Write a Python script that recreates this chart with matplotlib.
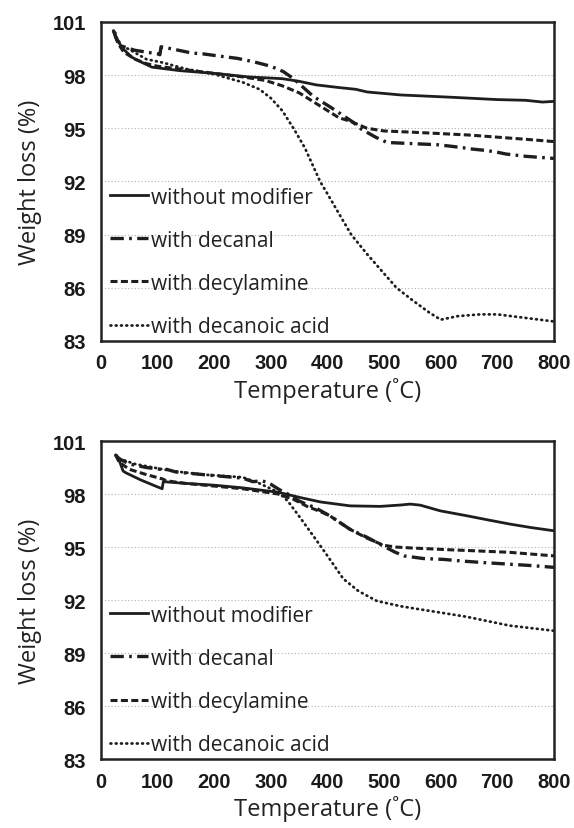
import matplotlib
matplotlib.use("Agg")
import matplotlib.pyplot as plt

# ---- data ----
labels = ["without modifier", "with decanal", "with decylamine", "with decanoic acid"]
y_ticks = [83, 86, 89, 92, 95, 98, 101]
x_ticks = [0, 100, 200, 300, 400, 500, 600, 700, 800]

# top panel
t_none_a = [22, 25, 30, 40, 55, 70, 90, 140, 200, 260, 320, 350, 380, 420, 450, 470, 530, 620, 700, 750, 780, 800]
w_none_a = [100.5, 100.2, 99.9, 99.45, 99.0, 98.75, 98.45, 98.25, 98.1, 97.9, 97.8, 97.65, 97.45, 97.3, 97.2,
            97.05, 96.88, 96.75, 96.62, 96.58, 96.48, 96.52]

t_decanal_a = [22, 28, 40, 60, 80, 100, 104, 106, 130, 160, 180, 215, 240, 270, 300, 322, 340, 375, 405, 445,
               460, 485, 505, 540, 575, 595, 615, 640, 655, 680, 700, 715, 750, 800]
w_decanal_a = [100.5, 100.0, 99.6, 99.4, 99.3, 99.2, 99.15, 99.6, 99.45, 99.25, 99.2, 99.05, 98.95, 98.75, 98.5,
               98.2, 97.8, 96.8, 96.2, 95.35, 94.95, 94.5, 94.2, 94.15, 94.1, 94.07, 94.0, 93.9, 93.83, 93.75,
               93.65, 93.55, 93.42, 93.3]

t_amine_a = [25, 30, 40, 60, 80, 100, 150, 200, 250, 290, 320, 350, 375, 400, 420, 440, 470, 500, 550, 600,
             650, 700, 750, 800]
w_amine_a = [100.2, 99.8, 99.3, 98.9, 98.65, 98.5, 98.3, 98.1, 97.9, 97.7, 97.4, 97.0, 96.5, 96.0, 95.6, 95.4,
             95.0, 94.85, 94.78, 94.7, 94.62, 94.5, 94.38, 94.25]

t_acid_a = [25, 30, 40, 50, 80, 110, 150, 200, 250, 280, 300, 320, 340, 360, 387, 400, 420, 442, 470, 500,
            522, 550, 580, 600, 630, 670, 700, 750, 800]
w_acid_a = [100.4, 99.9, 99.6, 99.45, 98.9, 98.7, 98.35, 98.05, 97.6, 97.2, 96.7, 96.0, 95.0, 93.9, 92.0,
            91.3, 90.2, 89.0, 87.9, 86.8, 86.0, 85.3, 84.6, 84.2, 84.4, 84.5, 84.5, 84.3, 84.1]

# bottom panel
t_none_b = [26, 31, 39, 44, 70, 100, 108, 110, 150, 200, 250, 313, 352, 388, 440, 493, 530, 546, 564, 599,
            646, 681, 722, 760, 800]
w_none_b = [100.2, 100.0, 99.3, 99.2, 98.8, 98.4, 98.3, 98.7, 98.6, 98.5, 98.35, 98.1, 97.8, 97.55, 97.33,
            97.3, 97.38, 97.43, 97.37, 97.05, 96.77, 96.55, 96.3, 96.1, 95.92]

t_decanal_b = [26, 32, 50, 80, 105, 110, 132, 180, 250, 268, 285, 300, 315, 330, 350, 380, 405, 440, 470, 499,
               520, 535, 569, 605, 640, 675, 711, 760, 800]
w_decanal_b = [100.2, 100.0, 99.7, 99.5, 99.4, 99.45, 99.25, 99.1, 98.9, 98.7, 98.75, 98.55, 98.25, 98.0,
               97.6, 97.2, 96.75, 96.0, 95.55, 95.05, 94.7, 94.5, 94.35, 94.3, 94.2, 94.12, 94.05, 93.95, 93.85]

t_amine_b = [26, 32, 50, 80, 109, 115, 150, 200, 250, 313, 340, 364, 388, 405, 440, 470, 499, 520, 546, 580,
             611, 650, 722, 760, 800]
w_amine_b = [100.2, 99.8, 99.4, 99.1, 98.85, 98.75, 98.6, 98.45, 98.3, 98.0, 97.7, 97.3, 97.0, 96.75, 96.0,
             95.5, 95.1, 95.0, 94.95, 94.9, 94.85, 94.8, 94.7, 94.6, 94.5]

t_acid_b = [26, 32, 60, 109, 127, 180, 250, 280, 313, 330, 352, 379, 400, 428, 455, 487, 529, 558, 617, 646,
            722, 800]
w_acid_b = [100.2, 100.0, 99.7, 99.4, 99.3, 99.1, 98.95, 98.6, 98.1, 97.6, 96.65, 95.45, 94.5, 93.2, 92.5,
            91.95, 91.65, 91.5, 91.2, 91.05, 90.55, 90.26]

panels = [
    [(t_none_a, w_none_a), (t_decanal_a, w_decanal_a), (t_amine_a, w_amine_a), (t_acid_a, w_acid_a)],
    [(t_none_b, w_none_b), (t_decanal_b, w_decanal_b), (t_amine_b, w_amine_b), (t_acid_b, w_acid_b)],
]

line_col = "#1e1e1e"
styles = [
    dict(linestyle="-", linewidth=2.0),
    dict(linestyle=(0, (4, 1.6, 0.8, 1.6)), linewidth=2.4),
    dict(linestyle=(0, (2.3, 1.1)), linewidth=2.2),
    dict(linestyle=(0, (0.3, 1.6)), linewidth=2.0, dash_capstyle="round"),
]

label_font = ["Open Sans", "DejaVu Sans"]
tick_font = ["Liberation Sans", "DejaVu Sans"]

fig = plt.figure(figsize=(5.74, 8.29), dpi=100)
fig.patch.set_facecolor("white")
rects = [[0.176, 0.5875, 0.789, 0.3848], [0.176, 0.0832, 0.789, 0.3836]]

for rect, series in zip(rects, panels):
    ax = fig.add_axes(rect)
    for (t, w), lab, st in zip(series, labels, styles):
        ax.plot(t, w, color=line_col, label=lab, **st)

    ax.set_xlim(0, 800)
    ax.set_ylim(83, 101)
    ax.set_xticks(x_ticks)
    ax.set_yticks(y_ticks)
    ax.yaxis.grid(True, linestyle=(0, (1, 2)), color="#b0b0b0", linewidth=0.8)
    ax.set_axisbelow(True)
    ax.tick_params(length=0, labelsize=14.5, colors="#1a1a1a")
    ax.tick_params(axis="x", pad=9)
    ax.tick_params(axis="y", pad=11)
    for lbl in ax.get_xticklabels() + ax.get_yticklabels():
        lbl.set_fontfamily(tick_font)
        lbl.set_fontweight("bold")
    for sp in ax.spines.values():
        sp.set_linewidth(1.8)
        sp.set_color("#222222")

    ax.set_xlabel("Temperature (˚C)", fontsize=17, family=label_font, color="#222222")
    ax.set_ylabel("Weight loss (%)", fontsize=17, family=label_font, color="#222222")
    ax.xaxis.set_label_coords(0.5, -0.113)
    ax.yaxis.set_label_coords(-0.130, 0.5)

    leg = ax.legend(loc="lower left", bbox_to_anchor=(0.02, 0.013), frameon=False,
                    handlelength=1.8, handletextpad=0.15, labelspacing=1.06,
                    borderpad=0, borderaxespad=0,
                    prop=dict(family=label_font, size=15))
    for txt in leg.get_texts():
        txt.set_color("#222222")

fig.savefig("out.png", dpi=100, facecolor="white")
